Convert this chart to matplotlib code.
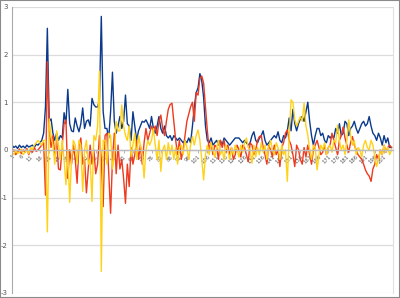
import matplotlib
matplotlib.use('Agg')
import matplotlib.pyplot as plt
import numpy as np
from matplotlib.patches import Rectangle

blue = [0.10, 0.05, 0.08, 0.03, 0.10, 0.05, 0.08, 0.04, 0.10, 0.06,
        0.08, 0.10, 0.05, 0.12, 0.10, 0.15, 0.20, 0.35, 0.90, 2.55,
        0.60, 0.65, 0.35, 0.20, 0.35, 0.20, 0.30, 0.25, 0.78, 0.55,
        1.27, 0.55, 0.40, 0.38, 0.67, 0.50, 0.38, 0.55, 0.88, 0.45,
        0.60, 0.63, 0.50, 1.08, 0.95, 0.90, 0.90, 1.05, 2.80, 0.80,
        0.45, 0.45, 0.25, 0.80, 1.63, 0.60, 0.35, 0.50, 0.70, 0.45,
        0.60, 1.15, 0.55, 0.50, 0.20, 0.80, 0.50, 0.20, 0.40, 0.50,
        0.60, 0.58, 0.63, 0.55, 0.45, 0.70, 0.45, 0.35, 0.50, 0.70,
        0.45, 0.35, 0.50, 0.30, 0.25, 0.30, 0.20, 0.30, 0.25, 0.20,
        0.25, 0.20, 0.15, 0.20, 0.15, 0.25, 0.15, 0.50, 0.90, 1.20,
        1.30, 1.60, 1.45, 1.10, 0.50, 0.20, 0.15, 0.25, 0.10, 0.15,
        0.20, 0.10, 0.20, 0.10, 0.25, 0.20, 0.15, 0.10, 0.15, 0.20,
        0.25, 0.25, 0.25, 0.20, 0.15, 0.20, 0.15, 0.10, 0.15, 0.30,
        0.38, 0.20, 0.15, 0.25, 0.30, 0.40, 0.20, 0.10, 0.15, 0.20,
        0.25, 0.30, 0.25, 0.38, 0.20, 0.15, 0.30, 0.25, 0.40, 0.67,
        0.40, 0.85, 0.55, 0.40, 0.55, 0.65, 0.70, 0.60, 0.80, 1.00,
        0.60, 0.30, 0.10, 0.30, 0.45, 0.45, 0.30, 0.35, 0.20, 0.15,
        0.30, 0.25, 0.30, 0.25, 0.45, 0.35, 0.55, 0.30, 0.35, 0.60,
        0.55, 0.30, 0.45, 0.50, 0.60, 0.45, 0.35, 0.45, 0.55, 0.60,
        0.50, 0.55, 0.70, 0.50, 0.35, 0.30, 0.20, 0.35, 0.25, 0.10,
        0.30, 0.15, 0.25, 0.05, 0.05]

red = [-0.05, 0.00, -0.10, -0.05, 0.02, -0.08, 0.00, -0.05, 0.03, -0.10,
       0.00, -0.05, 0.05, -0.03, 0.00, 0.05, 0.10, 0.15, -0.95, 1.85,
       0.40, 0.05, 0.30, -0.10, 0.20, -0.40, -0.42, 0.10, 0.55, 0.63,
       -0.60, 0.00, -0.30, 0.10, -0.20, -0.70, 0.10, 0.25, -0.30, -0.20,
       -0.90, -0.40, 0.10, -0.30, 0.00, -0.50, -0.30, 0.30, -0.20, -1.19,
       0.30, 0.35, -0.50, -1.33, -0.20, 0.35, -0.50, 0.10, -0.40, -0.20,
       -0.60, -1.12, -0.30, -0.77, 0.05, -0.30, -0.10, 0.20, -0.20, 0.10,
       -0.30, 0.15, 0.45, 0.20, 0.35, 0.50, 0.40, 0.50, 0.30, 0.60,
       0.73, 0.45, 0.30, 0.60, 0.85, 0.95, 0.98, 0.60, 0.20, -0.10,
       0.20, -0.20, 0.00, 0.30, 0.60, 0.75, 0.90, 1.00, 0.60, 1.20,
       1.15, 1.50, 1.55, 1.40, 0.90, 0.40, 0.00, 0.15, -0.10, 0.10,
       0.05, -0.20, 0.20, 0.05, 0.20, -0.05, 0.10, -0.10, 0.05, -0.20,
       -0.10, 0.10, 0.00, -0.15, 0.10, 0.05, -0.10, -0.25, 0.15, 0.10,
       -0.10, 0.00, 0.20, 0.28, 0.30, 0.05, -0.10, -0.30, 0.10, 0.00,
       -0.15, 0.10, -0.10, 0.00, -0.35, 0.05, 0.15, 0.35, 0.42, 0.20,
       0.10, -0.10, -0.35, 0.10, 0.00, -0.20, -0.30, 0.05, -0.15, 0.10,
       -0.10, -0.30, 0.00, 0.10, 0.20, 0.05, -0.10, -0.05, 0.10, -0.10,
       0.05, 0.10, 0.35, 0.20, 0.05, -0.10, 0.20, 0.30, 0.48, 0.25,
       0.10, -0.05, 0.15, 0.28, 0.10, 0.00, -0.10, -0.15, -0.20, -0.30,
       -0.42, -0.50, -0.55, -0.66, -0.40, -0.30, -0.10, -0.20, 0.00, -0.10,
       0.10, -0.05, 0.05, 0.10, 0.05]

yellow = [-0.05, -0.10, 0.00, -0.08, -0.05, 0.02, -0.10, -0.05, 0.00, -0.08,
          0.05, 0.00, 0.10, 0.15, 0.20, 0.15, 0.10, 0.20, 0.20, -1.72,
          0.65, 0.30, 0.10, -0.30, 0.40, 0.10, -0.20, 0.20, -0.20, -0.73,
          0.00, -1.10, -0.20, 0.20, 0.10, -0.30, 0.20, 0.10, -0.87, 0.00,
          0.20, -0.30, -0.20, -1.08, 0.30, 0.20, 0.50, 1.65, -2.55, 0.20,
          0.20, -0.30, 0.35, 0.30, -0.40, -0.10, 0.60, 0.40, 0.40, 0.94,
          0.50, 0.30, 0.20, 0.50, -0.14, 0.10, 0.35, -0.20, 0.30, 0.10,
          -0.10, -0.59, 0.00, 0.20, 0.10, 0.20, 0.45, 0.10, -0.20, 0.20,
          -0.45, 0.00, 0.10, -0.20, 0.15, -0.10, 0.10, -0.20, 0.05, -0.30,
          0.05, 0.10, -0.10, 0.20, 0.05, -0.20, 0.10, 0.28, 0.10, 0.30,
          0.42, 0.20, -0.20, -0.63, -0.10, 0.10, -0.10, 0.15, 0.00, -0.15,
          0.05, 0.20, -0.10, 0.00, -0.20, 0.10, 0.00, -0.20, 0.05, -0.10,
          0.10, 0.00, -0.15, 0.10, -0.05, 0.15, 0.25, 0.05, 0.00, -0.28,
          0.10, -0.15, 0.05, -0.10, 0.15, -0.05, 0.10, -0.20, 0.05, 0.20,
          0.00, -0.10, 0.15, 0.05, -0.20, 0.10, -0.10, 0.00, -0.66, 0.30,
          1.05, 1.00, 0.63, 0.50, 0.60, 0.70, 0.60, 0.98, 0.50, 0.31,
          0.00, -0.20, 0.10, 0.05, -0.42, -0.10, 0.10, 0.00, 0.15, -0.10,
          0.05, 0.10, -0.05, 0.20, 0.15, 0.52, 0.20, 0.00, 0.10, -0.10,
          0.20, 0.63, 0.30, 0.10, 0.20, -0.10, 0.05, 0.00, -0.15, 0.10,
          0.20, 0.05, 0.00, 0.20, 0.10, -0.14, -0.35, -0.20, 0.00, -0.10,
          0.10, -0.05, 0.05, -0.10, 0.00]

xtick_values = list(range(1, 202, 5))
xtick_labels = [str(v) for v in xtick_values]
ytick_values = [-3, -2, -1, 0, 1, 2, 3]
ytick_labels = [str(v) for v in ytick_values]

x = np.arange(1, len(blue) + 1)

fig = plt.figure(figsize=(4.0, 2.98), dpi=100)
ax = fig.add_axes([0.03, 0.017, 0.9525, 0.96])
ax.set_ylim(-3, 3)
ax.set_xlim(1, 205.8)

ax.set_yticks(ytick_values)
ax.set_yticklabels(ytick_labels, fontsize=5, color='#555555')
ax.grid(axis='y', color='#dcdcdc', lw=0.9)
ax.set_axisbelow(True)

ax.spines['top'].set_visible(False)
ax.spines['right'].set_color('#e0e0e0')
ax.spines['left'].set_color('#aaaaaa')
ax.spines['bottom'].set_position(('data', 0))
ax.spines['bottom'].set_color('#bbbbbb')
ax.spines['bottom'].set_linewidth(1.0)

ax.set_xticks(xtick_values)
ax.set_xticklabels(xtick_labels, rotation=45, ha='right', va='top',
                   fontsize=3.8, color='#555555', rotation_mode='anchor')
ax.tick_params(axis='x', length=2, width=0.6, pad=1, color='#aaaaaa')
ax.tick_params(axis='y', length=0, pad=3)

ax.plot(x, blue, color='#0b3a8c', lw=1.0)
ax.plot(x, red, color='#ee3a1f', lw=1.0)
ax.plot(x, yellow, color='#ffd21a', lw=1.0)

fig.patches.append(Rectangle((0, 0), 1, 1, transform=fig.transFigure,
                             fill=False, edgecolor='#8a8a8a', lw=1.5))
fig.savefig('out.png', dpi=100)
